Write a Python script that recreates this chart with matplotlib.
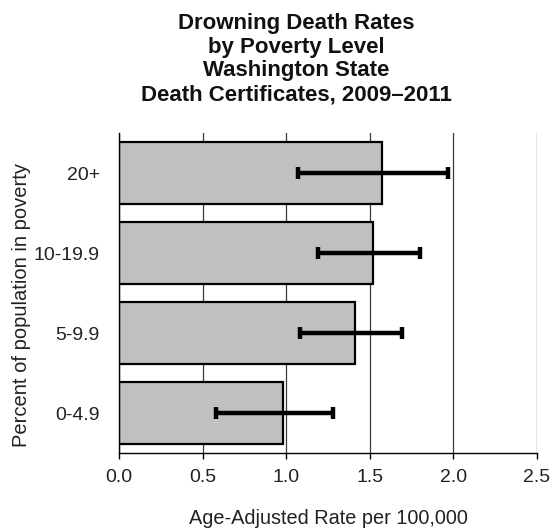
import matplotlib
matplotlib.use("Agg")
import matplotlib.pyplot as plt

categories = ["0-4.9", "5-9.9", "10-19.9", "20+"]
rates = [0.98, 1.41, 1.52, 1.57]
ci_low = [0.58, 1.08, 1.19, 1.07]
ci_high = [1.28, 1.69, 1.80, 1.97]
xticks = [0.0, 0.5, 1.0, 1.5, 2.0, 2.5]
title = "Drowning Death Rates\nby Poverty Level\nWashington State\nDeath Certificates, 2009\u20132011"

plt.rcParams['font.family'] = ['Liberation Sans', 'DejaVu Sans']

W, H = 555, 529
fig = plt.figure(figsize=(W / 100, H / 100), dpi=100)
ax = fig.add_axes([119.3 / W, 1 - 453.3 / H, (537 - 119.3) / W, (453.3 - 133) / H])

y = list(range(len(categories)))
err = [[r - lo for r, lo in zip(rates, ci_low)], [hi - r for r, hi in zip(rates, ci_high)]]
ax.barh(y, rates, height=0.775, color="#c0c0c0", edgecolor="black", linewidth=1.6, zorder=2)
ax.errorbar(rates, y, xerr=err, fmt="none", ecolor="black", elinewidth=3.2,
            capsize=4.5, capthick=3.2, zorder=3)

ax.set_xlim(0, 2.5)
ax.set_ylim(-0.5, len(categories) - 0.5)
ax.set_xticks(xticks)
ax.set_xticklabels([f"{v:.1f}" for v in xticks])
ax.set_yticks(y)
ax.set_yticklabels(categories)
ax.grid(axis="x", color="#3a3a3a", linewidth=0.9, zorder=0)
ax.set_axisbelow(True)
for s in ["top", "right"]:
    ax.spines[s].set_visible(False)
ax.spines["left"].set_linewidth(1.0)
ax.spines["bottom"].set_linewidth(1.0)
ax.tick_params(axis="x", direction="out", length=4, width=1.0, labelsize=14,
               labelcolor="#222222", pad=7)
ax.tick_params(axis="y", length=0, labelsize=14, labelcolor="#222222", pad=14)

ax.set_xlabel("Age-Adjusted Rate per 100,000", fontsize=14.3, color="#222222", labelpad=17)
fig.text(22 / W, 1 - 305 / H, "Percent of population in poverty", rotation=90,
         ha="center", va="center", fontsize=14.5, color="#222222")

fig.text(296 / W, 1 - 59 / H, title, ha="center", va="center", fontsize=16,
         fontweight="bold", linespacing=1.17, color="#111111")

fig.savefig("out.png", dpi=100)
